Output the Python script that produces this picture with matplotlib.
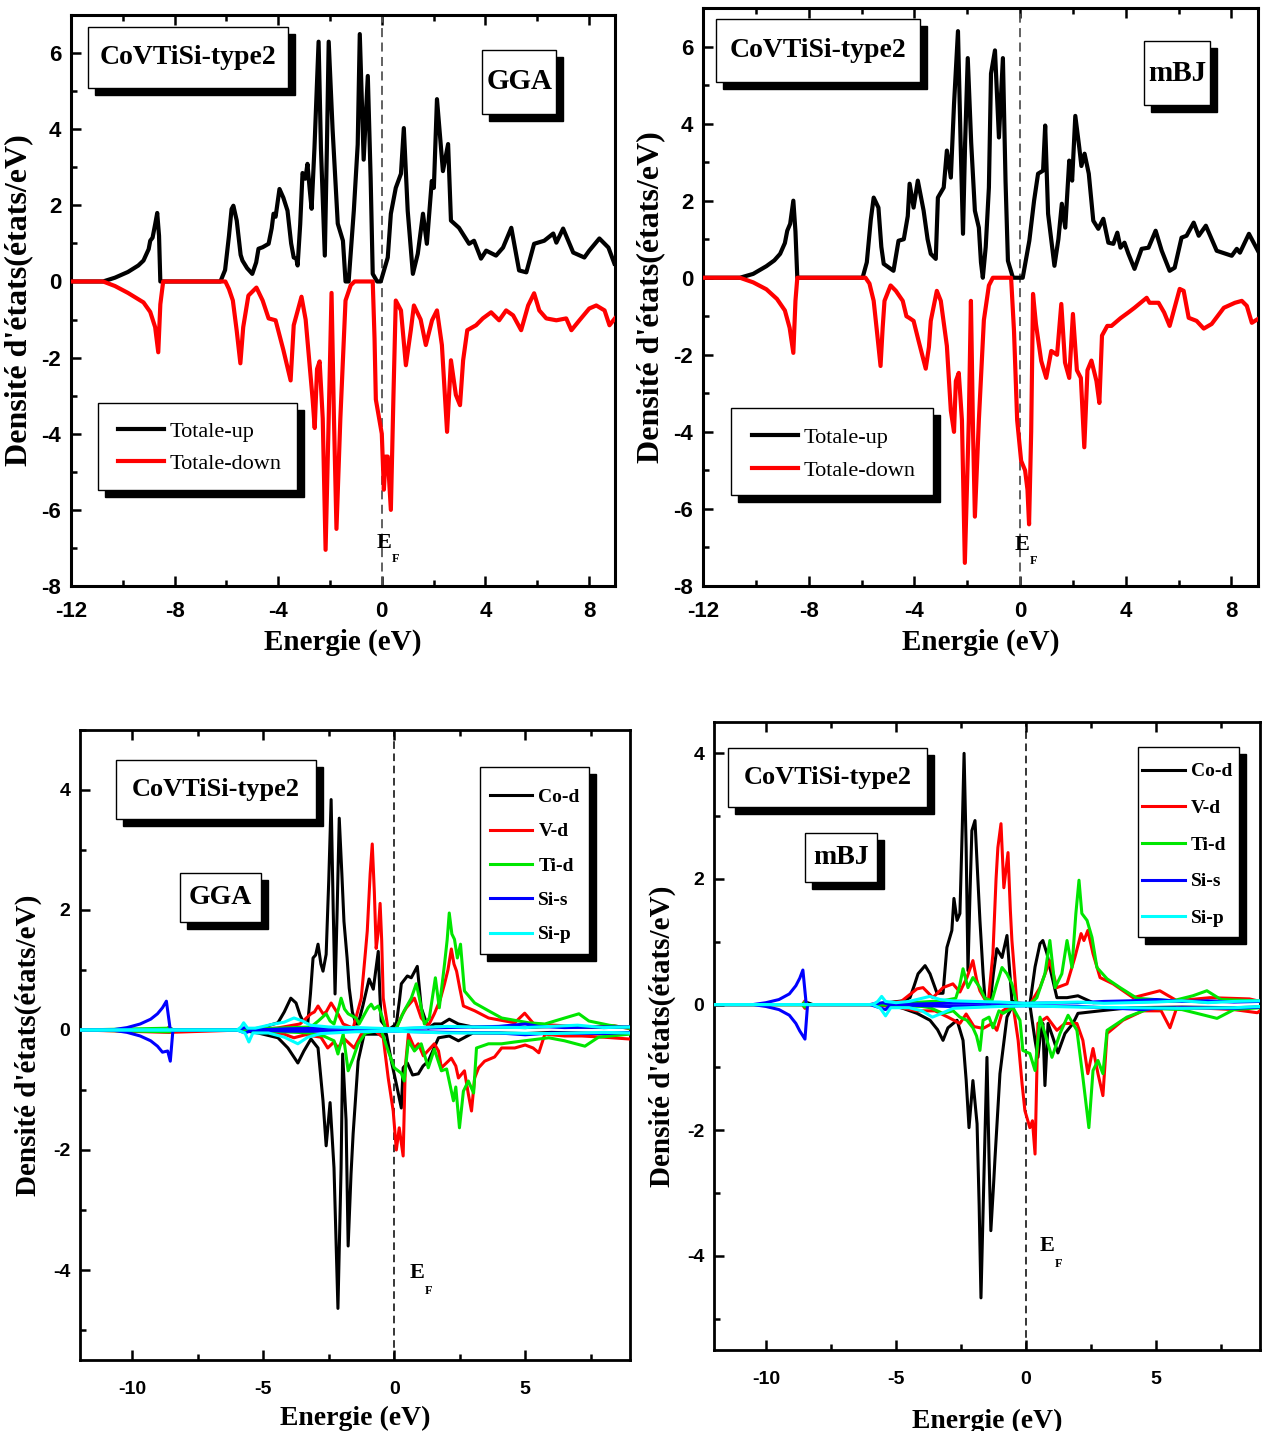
import matplotlib
matplotlib.use("Agg")
import matplotlib.pyplot as plt
from matplotlib.patches import Rectangle
from matplotlib.ticker import MultipleLocator
from matplotlib.transforms import offset_copy

plt.rcParams['font.family'] = ['Liberation Sans', 'DejaVu Sans']
plt.rcParams['font.weight'] = 'bold'
plt.rcParams['axes.unicode_minus'] = False

SERIF = ['Liberation Serif', 'DejaVu Serif']

# ---------------- data: total DOS, GGA (energy eV, DOS states/eV) ----------------
gga_tot_up = [(-12, 0), (-10.76, 0), (-10.3, 0.1), (-9.8, 0.25), (-9.4, 0.42), (-9.2, 0.55), (-9.0, 0.85),
              (-8.94, 1.07), (-8.85, 1.15), (-8.75, 1.5), (-8.67, 1.8), (-8.6, 1.2), (-8.55, 0), (-6.23, 0),
              (-6.05, 0.3), (-5.9, 1.2), (-5.8, 1.9), (-5.73, 1.99), (-5.6, 1.6), (-5.45, 0.7), (-5.38, 0.55),
              (-5.2, 0.35), (-5.0, 0.2), (-4.85, 0.5), (-4.76, 0.86), (-4.6, 0.9), (-4.37, 0.99), (-4.25, 1.4),
              (-4.18, 1.78), (-4.1, 1.7), (-3.95, 2.43), (-3.8, 2.2), (-3.64, 1.86), (-3.5, 1.0), (-3.4, 0.63),
              (-3.3, 0.6), (-3.25, 0.42), (-3.15, 1.5), (-3.06, 2.85), (-2.95, 2.7), (-2.87, 3.09), (-2.78, 2.4),
              (-2.71, 1.91), (-2.6, 3.5), (-2.44, 6.3), (-2.35, 3.5), (-2.2, 0.68), (-2.12, 3.5), (-2.05, 6.3),
              (-1.9, 4.0), (-1.7, 1.52), (-1.5, 1.07), (-1.4, 0), (-1.28, 0), (-1.08, 1.86), (-0.93, 3.6),
              (-0.85, 6.5), (-0.7, 3.2), (-0.54, 5.4), (-0.43, 2.7), (-0.35, 0.2), (-0.18, 0), (-0.04, 0),
              (0.23, 0.63), (0.35, 1.78), (0.54, 2.46), (0.74, 2.83), (0.85, 4.03), (1.0, 1.86), (1.2, 0.2),
              (1.39, 0.73), (1.59, 1.78), (1.74, 0.99), (1.93, 2.64), (2.01, 2.46), (2.13, 4.79), (2.36, 2.9),
              (2.56, 3.61), (2.67, 1.6), (2.98, 1.41), (3.37, 0.99), (3.56, 1.07), (3.83, 0.6), (4.03, 0.81),
              (4.41, 0.68), (4.68, 0.89), (5.0, 1.41), (5.3, 0.29), (5.58, 0.24), (5.88, 0.99), (6.27, 1.07),
              (6.62, 1.26), (6.74, 1.02), (7.0, 1.39), (7.39, 0.76), (7.82, 0.63), (8.01, 0.81), (8.4, 1.13),
              (8.75, 0.89), (8.98, 0.47)]
gga_tot_dn = [(-12, 0), (-10.76, 0), (-10.3, -0.12), (-9.8, -0.3), (-9.2, -0.55), (-8.94, -0.8), (-8.75, -1.2),
              (-8.63, -1.86), (-8.55, -0.6), (-8.44, 0), (-6.04, 0), (-5.9, -0.2), (-5.75, -0.5), (-5.6, -1.3),
              (-5.46, -2.15), (-5.35, -1.2), (-5.15, -0.37), (-4.84, -0.16), (-4.6, -0.5), (-4.37, -0.97),
              (-4.1, -1.02), (-3.8, -1.8), (-3.52, -2.6), (-3.4, -1.15), (-3.1, -0.4), (-2.94, -1.0),
              (-2.67, -3.1), (-2.59, -3.85), (-2.5, -2.3), (-2.4, -2.1), (-2.28, -3.6), (-2.17, -7.05),
              (-2.05, -3.6), (-1.94, -0.3), (-1.85, -3.5), (-1.75, -6.5), (-1.6, -3.6), (-1.4, -0.5),
              (-1.2, -0.1), (-1.05, 0), (-0.35, 0), (-0.28, -1.5), (-0.23, -3.1), (0.0, -4.0), (0.08, -5.47),
              (0.15, -4.6), (0.23, -4.6), (0.35, -6.0), (0.45, -3.0), (0.54, -0.5), (0.74, -0.76), (0.93, -2.2),
              (1.12, -1.28), (1.24, -0.63), (1.5, -1.0), (1.7, -1.67), (1.94, -1.02), (2.13, -0.76), (2.32, -1.67),
              (2.52, -3.95), (2.67, -2.07), (2.86, -2.98), (3.02, -3.25), (3.14, -2.07), (3.3, -1.28),
              (3.64, -1.15), (3.9, -0.97), (4.22, -0.81), (4.53, -1.02), (4.8, -0.76), (5.07, -0.89),
              (5.38, -1.28), (5.65, -0.63), (5.88, -0.31), (6.08, -0.76), (6.35, -0.97), (6.74, -1.02),
              (7.12, -0.97), (7.32, -1.28), (7.63, -1.02), (8.01, -0.71), (8.28, -0.63), (8.6, -0.76),
              (8.79, -1.15), (9.0, -0.97)]

# ---------------- data: total DOS, mBJ ----------------
mbj_tot_up = [(-12, 0), (-10.6, 0), (-10.1, 0.1), (-9.6, 0.3), (-9.3, 0.45), (-9.08, 0.62), (-8.9, 0.9),
              (-8.81, 1.22), (-8.7, 1.4), (-8.58, 2.0), (-8.5, 1.2), (-8.43, 0), (-5.96, 0), (-5.8, 0.4),
              (-5.65, 1.5), (-5.54, 2.08), (-5.36, 1.82), (-5.25, 0.8), (-5.16, 0.36), (-4.79, 0.18), (-4.6, 0.96),
              (-4.4, 1.0), (-4.25, 1.6), (-4.18, 2.44), (-4.03, 1.82), (-3.87, 2.52), (-3.65, 1.74), (-3.5, 1.0),
              (-3.38, 0.62), (-3.19, 0.49), (-3.11, 2.08), (-2.89, 2.34), (-2.77, 3.3), (-2.62, 2.6), (-2.5, 4.5),
              (-2.35, 6.4), (-2.25, 3.5), (-2.16, 1.14), (-2.08, 3.5), (-1.98, 5.7), (-1.85, 3.5), (-1.71, 1.74),
              (-1.56, 1.3), (-1.48, 0.4), (-1.41, 0), (-1.3, 0.8), (-1.18, 2.34), (-1.1, 5.3), (-0.95, 5.9),
              (-0.8, 3.64), (-0.65, 5.7), (-0.55, 2.5), (-0.46, 0.44), (-0.27, 0), (0.1, 0), (0.35, 0.96),
              (0.53, 2.0), (0.68, 2.7), (0.87, 2.78), (0.95, 3.95), (1.06, 1.66), (1.3, 0.31), (1.45, 1.0),
              (1.58, 1.92), (1.71, 1.3), (1.86, 3.04), (1.97, 2.52), (2.09, 4.2), (2.24, 3.38), (2.32, 2.9),
              (2.44, 3.22), (2.6, 2.7), (2.77, 1.48), (2.96, 1.27), (3.15, 1.53), (3.34, 0.91), (3.53, 0.88),
              (3.68, 1.17), (3.8, 0.78), (3.95, 0.91), (4.1, 0.62), (4.33, 0.23), (4.6, 0.75), (4.86, 0.78),
              (5.13, 1.22), (5.36, 0.7), (5.66, 0.18), (5.85, 0.26), (6.11, 1.04), (6.3, 1.09), (6.57, 1.43),
              (6.76, 1.09), (7.03, 1.35), (7.44, 0.7), (8.01, 0.57), (8.2, 0.75), (8.32, 0.65), (8.66, 1.14),
              (9.0, 0.7)]
mbj_tot_dn = [(-12, 0), (-10.6, 0), (-10.1, -0.12), (-9.6, -0.3), (-9.2, -0.55), (-8.9, -0.85), (-8.72, -1.3),
              (-8.58, -1.95), (-8.5, -0.6), (-8.43, 0), (-5.85, 0), (-5.7, -0.15), (-5.54, -0.6), (-5.4, -1.5),
              (-5.28, -2.29), (-5.2, -1.3), (-5.13, -0.6), (-4.9, -0.2), (-4.7, -0.34), (-4.44, -0.6),
              (-4.3, -1.0), (-4.2, -1.04), (-4.03, -1.12), (-3.84, -1.64), (-3.57, -2.36), (-3.45, -1.8),
              (-3.38, -1.12), (-3.15, -0.34), (-3.0, -0.6), (-2.77, -1.77), (-2.62, -3.45), (-2.5, -4.0),
              (-2.43, -2.68), (-2.32, -2.47), (-2.2, -3.7), (-2.09, -7.4), (-1.94, -3.7), (-1.86, -0.6),
              (-1.78, -4.0), (-1.71, -6.2), (-1.56, -3.7), (-1.37, -1.1), (-1.18, -0.2), (-1.03, 0), (-0.34, 0),
              (-0.23, -1.38), (-0.11, -3.7), (0.04, -4.75), (0.19, -5.0), (0.28, -5.5), (0.34, -6.4),
              (0.42, -4.0), (0.49, -0.42), (0.6, -1.2), (0.8, -2.16), (0.99, -2.6), (1.18, -1.9), (1.4, -2.0),
              (1.56, -0.68), (1.7, -2.2), (1.86, -2.6), (2.0, -0.94), (2.15, -2.4), (2.3, -2.6), (2.43, -4.4),
              (2.55, -2.4), (2.7, -2.15), (2.89, -2.68), (3.0, -3.25), (3.1, -1.5), (3.3, -1.25), (3.46, -1.25),
              (3.8, -1.05), (4.1, -0.9), (4.33, -0.78), (4.79, -0.52), (4.9, -0.65), (5.24, -0.65), (5.45, -0.9),
              (5.66, -1.25), (6.04, -0.29), (6.19, -0.34), (6.38, -1.04), (6.68, -1.12), (6.95, -1.32),
              (7.25, -1.2), (7.71, -0.78), (8.13, -0.65), (8.39, -0.6), (8.58, -0.73), (8.77, -1.17),
              (9.0, -1.07)]

# ---------------- data: partial DOS, GGA ----------------
gga_co_up = [(-12, 0), (-8.8, 0), (-8.6, 0.03), (-8.4, 0), (-6, 0), (-5.5, 0.02), (-5.1, 0.03), (-4.83, 0.07),
             (-4.44, 0.12), (-4.2, 0.3), (-3.95, 0.53), (-3.75, 0.45), (-3.6, 0.25), (-3.49, 0.15), (-3.3, 0.12),
             (-3.2, 0.6), (-3.1, 1.2), (-3.0, 1.25), (-2.91, 1.43), (-2.8, 1.1), (-2.72, 0.98), (-2.6, 1.26),
             (-2.5, 2.5), (-2.41, 3.84), (-2.33, 2.0), (-2.26, 0.6), (-2.18, 2.0), (-2.1, 3.53), (-2.0, 2.6),
             (-1.92, 1.81), (-1.8, 1.2), (-1.72, 0.7), (-1.6, 0.3), (-1.46, 0.1), (-1.38, 0.1), (-1.2, 0.4),
             (-0.96, 0.85), (-0.8, 0.68), (-0.61, 1.31), (-0.55, 0.6), (-0.5, 0.15), (-0.23, 0), (0.08, 0.1),
             (0.2, 0.5), (0.27, 0.77), (0.5, 0.9), (0.65, 0.87), (0.88, 1.06), (1.03, 0.37), (1.3, 0.03),
             (1.53, 0.1), (1.8, 0.1), (2.1, 0.18), (2.45, 0.1), (3, 0.05), (4, 0.05), (5, 0.04), (6, 0.06),
             (7, 0.05), (8, 0.04), (9, 0.05)]
gga_co_dn = [(-12, 0), (-5.86, 0), (-5.2, -0.05), (-4.44, -0.13), (-4.06, -0.3), (-3.68, -0.55), (-3.45, -0.35),
             (-3.18, -0.15), (-2.91, -0.3), (-2.72, -1.18), (-2.6, -1.93), (-2.45, -1.21), (-2.3, -2.3),
             (-2.15, -4.64), (-2.03, -2.3), (-1.97, -0.4), (-1.84, -1.5), (-1.76, -3.6), (-1.65, -2.4),
             (-1.57, -1.73), (-1.38, -0.52), (-1.15, -0.07), (-0.3, -0.07), (-0.11, -0.52), (0.08, -0.9),
             (0.27, -1.3), (0.34, -0.63), (0.5, -0.55), (0.7, -0.75), (0.92, -0.73), (1.1, -0.6), (1.3, -0.52),
             (1.69, -0.13), (2.1, -0.1), (2.45, -0.18), (3, -0.05), (4, -0.05), (5, -0.06), (6, -0.04),
             (7, -0.05), (8, -0.06), (9, -0.05)]
gga_v_up = [(-12, 0), (-8.7, 0), (-8.6, 0.05), (-8.5, 0), (-5.8, 0), (-4.5, 0.03), (-3.6, 0.1), (-3.18, 0.27),
            (-3.05, 0.3), (-2.91, 0.4), (-2.72, 0.27), (-2.6, 0.3), (-2.41, 0.45), (-2.15, 0.27), (-1.95, 0.1),
            (-1.57, 0.03), (-1.26, 0.53), (-1.1, 1.3), (-1.03, 1.65), (-0.92, 2.6), (-0.84, 3.1), (-0.76, 2.3),
            (-0.69, 1.36), (-0.62, 1.6), (-0.54, 2.11), (-0.48, 1.5), (-0.42, 0.53), (-0.23, 0), (0.08, 0.03),
            (0.3, 0.25), (0.46, 0.37), (0.77, 0.53), (1.03, 0.2), (1.3, 0.07), (1.53, 0.27), (1.75, 0.5),
            (1.92, 0.77), (2.05, 1.0), (2.18, 1.35), (2.28, 1.1), (2.38, 0.98), (2.5, 0.7), (2.64, 0.4),
            (3.07, 0.32), (3.6, 0.2), (4.6, 0.12), (4.98, 0.28), (5.33, 0.1), (6.5, 0.07), (7.5, 0.05),
            (8.4, 0.07), (9, 0.02)]
gga_v_dn = [(-12, 0), (-8.6, -0.04), (-5.8, 0), (-4.5, -0.05), (-4.2, -0.07), (-3.83, -0.13), (-3.4, -0.08),
            (-2.8, -0.12), (-2.54, -0.3), (-2.3, -0.2), (-2.15, -0.3), (-1.9, -0.15), (-1.53, -0.3),
            (-1.26, -0.07), (-0.77, 0), (-0.42, -0.13), (-0.23, -0.8), (-0.04, -1.35), (0.08, -2.0),
            (0.19, -1.63), (0.34, -2.1), (0.42, -0.63), (0.54, -0.07), (0.77, -0.3), (0.92, -0.23),
            (1.11, -0.43), (1.53, -0.23), (1.69, -0.35), (1.8, -0.63), (2.18, -0.47), (2.35, -0.6),
            (2.45, -0.8), (2.68, -0.68), (2.83, -1.07), (2.95, -1.35), (3.07, -0.8), (3.22, -0.63),
            (3.45, -0.52), (3.83, -0.45), (4.1, -0.3), (4.6, -0.3), (5.0, -0.25), (5.3, -0.3), (5.52, -0.38),
            (5.75, -0.07), (6.5, -0.1), (7.16, -0.1), (8.0, -0.12), (8.97, -0.15)]
gga_ti_up = [(-12, 0), (-8.6, 0.03), (-8.4, 0), (-5.8, 0), (-4.5, 0.03), (-3.18, 0.05), (-2.9, 0.15),
             (-2.6, 0.27), (-2.45, 0.15), (-2.3, 0.1), (-2.1, 0.4), (-2.03, 0.53), (-1.9, 0.35), (-1.76, 0.27),
             (-1.46, 0.2), (-1.34, 0.1), (-1.0, 0.37), (-0.88, 0.43), (-0.77, 0.35), (-0.61, 0.4), (-0.5, 0.27),
             (-0.31, 0), (0.08, 0.03), (0.38, 0.32), (0.65, 0.53), (0.84, 0.77), (0.96, 0.53), (1.15, 0.1),
             (1.34, 0.2), (1.57, 0.87), (1.72, 0.37), (1.92, 1.1), (2.02, 1.5), (2.1, 1.95), (2.2, 1.6),
             (2.3, 1.51), (2.41, 1.2), (2.53, 1.43), (2.68, 0.65), (3.07, 0.45), (3.6, 0.32), (4.1, 0.2),
             (5.13, 0.12), (5.75, 0.1), (6.51, 0.2), (7.05, 0.27), (7.43, 0.15), (8.2, 0.08), (8.97, 0.03)]
gga_ti_dn = [(-12, 0), (-8.6, -0.03), (-8.4, 0), (-5.8, 0), (-3.2, -0.05), (-2.7, -0.1), (-2.3, -0.18),
             (-2.15, -0.4), (-1.95, -0.07), (-1.76, -0.68), (-1.57, -0.47), (-1.38, -0.23), (-1.1, -0.05),
             (-0.5, 0), (-0.23, -0.35), (0, -0.63), (0.27, -0.72), (0.38, -0.85), (0.54, -0.18), (0.77, -0.35),
             (1.03, -0.23), (1.3, -0.63), (1.53, -0.32), (1.8, -0.68), (2.0, -0.65), (2.26, -1.18),
             (2.35, -0.95), (2.49, -1.63), (2.64, -1.02), (2.83, -0.85), (3.03, -1.05), (3.14, -0.3),
             (3.6, -0.23), (4.1, -0.23), (4.6, -0.2), (5.9, -0.13), (6.5, -0.18), (7.28, -0.27), (7.8, -0.12),
             (8.97, -0.07)]
gga_sis_up = [(-12, 0), (-10.8, 0), (-10.2, 0.04), (-9.7, 0.1), (-9.3, 0.18), (-9.04, 0.27), (-8.85, 0.37),
              (-8.7, 0.48), (-8.55, 0), (-6, 0), (-5.7, 0.04), (-5.4, 0), (-4, 0.02), (-2, 0.03), (0, 0.02),
              (2, 0.04), (4, 0.06), (5, 0.1), (5.5, 0.06), (6.5, 0.04), (8, 0.05), (9, 0.05)]
gga_sis_dn = [(-12, 0), (-10.8, 0), (-10.2, -0.04), (-9.7, -0.1), (-9.3, -0.18), (-9.04, -0.27), (-8.85, -0.37),
              (-8.65, -0.35), (-8.55, -0.52), (-8.45, 0), (-6, 0), (-5.7, -0.05), (-5.4, 0), (-4, -0.02),
              (0, -0.02), (2, -0.04), (4, -0.05), (5, -0.08), (6, -0.05), (8, -0.06), (9, -0.04)]
gga_sip_up = [(-12, 0), (-6.0, 0), (-5.85, 0.05), (-5.75, 0.12), (-5.6, 0.03), (-5.3, 0.03), (-5.0, 0.06),
              (-4.6, 0.1), (-4.2, 0.13), (-3.83, 0.2), (-3.5, 0.15), (-3.2, 0.08), (-2.5, 0.05), (-1.5, 0.04),
              (0, 0.02), (1, 0.04), (2, 0.06), (3, 0.05), (5, 0.04), (6, 0.06), (7, 0.08), (8, 0.04), (9, 0.05)]
gga_sip_dn = [(-12, 0), (-6.0, 0), (-5.7, -0.05), (-5.55, -0.2), (-5.4, -0.05), (-4.8, -0.05), (-4.2, -0.12),
              (-3.68, -0.23), (-3.3, -0.12), (-2.8, -0.06), (-1.5, -0.03), (0, -0.02), (2, -0.05), (4, -0.05),
              (6, -0.06), (8, -0.04), (9, -0.05)]

# ---------------- data: partial DOS, mBJ ----------------
mbj_co_up = [(-12, 0), (-8.6, 0), (-8.4, 0.03), (-8.2, 0), (-6, 0), (-5.5, 0.02), (-4.73, 0.06), (-4.46, 0.11),
             (-4.3, 0.3), (-4.15, 0.49), (-3.88, 0.62), (-3.69, 0.49), (-3.42, 0.18), (-3.19, 0.18),
             (-3.04, 0.91), (-2.85, 1.18), (-2.77, 1.69), (-2.65, 1.34), (-2.54, 1.45), (-2.45, 2.8),
             (-2.38, 4.0), (-2.3, 2.5), (-2.23, 0.54), (-2.15, 1.8), (-2.08, 2.77), (-1.96, 2.93), (-1.85, 2.0),
             (-1.77, 1.34), (-1.65, 0.5), (-1.58, 0.11), (-1.38, 0.02), (-1.25, 0.5), (-1.12, 0.89),
             (-0.92, 0.75), (-0.73, 1.1), (-0.62, 0.5), (-0.54, 0.06), (-0.23, 0), (0.15, 0), (0.35, 0.6),
             (0.54, 0.97), (0.65, 1.02), (0.81, 0.81), (0.92, 0.59), (1.19, 0.11), (1.58, 0.11), (2.0, 0.14),
             (2.58, 0.03), (3.5, 0.04), (5, 0.05), (6, 0.06), (7, 0.04), (8, 0.06), (9, 0.05)]
mbj_co_dn = [(-12, 0), (-5.5, 0), (-4.8, -0.05), (-4.19, -0.14), (-3.69, -0.25), (-3.4, -0.4), (-3.19, -0.57),
             (-3.0, -0.37), (-2.65, -0.25), (-2.42, -0.57), (-2.3, -1.2), (-2.19, -1.96), (-2.04, -1.21),
             (-1.88, -1.9), (-1.8, -3.2), (-1.73, -4.67), (-1.62, -2.8), (-1.5, -0.84), (-1.42, -2.44),
             (-1.35, -3.6), (-1.25, -2.9), (-1.19, -2.44), (-1.0, -1.1), (-0.73, -0.2), (-0.5, 0), (0.15, 0),
             (0.35, -0.57), (0.46, -0.84), (0.55, -0.5), (0.65, -0.3), (0.73, -1.29), (0.85, -0.3),
             (1.04, -0.53), (1.23, -0.77), (1.5, -0.46), (1.81, -0.3), (2.0, -0.14), (2.85, -0.1), (4, -0.05),
             (6, -0.04), (8, -0.05), (9, -0.04)]
mbj_v_up = [(-12, 0), (-8.6, 0), (-8.5, 0.06), (-8.4, 0), (-5.8, 0), (-4.8, 0.05), (-4.19, 0.25), (-3.96, 0.27),
            (-3.58, 0.11), (-3.19, 0.27), (-2.81, 0.33), (-2.54, 0.2), (-2.27, 0.43), (-2.04, 0.7), (-1.9, 0.4),
            (-1.77, 0.22), (-1.46, 0), (-1.27, 0.81), (-1.15, 2.0), (-1.08, 2.5), (-0.96, 2.88), (-0.85, 1.86),
            (-0.69, 2.42), (-0.6, 1.5), (-0.54, 1.02), (-0.35, 0.03), (0.15, 0), (0.54, 0.27), (0.92, 0.7),
            (1.19, 0.27), (1.58, 0.33), (1.88, 0.75), (2.12, 1.13), (2.23, 1.02), (2.38, 1.18), (2.58, 0.81),
            (2.85, 0.43), (3.35, 0.33), (4.12, 0.11), (5.15, 0.22), (5.81, 0.06), (7.08, 0.11), (8.6, 0.09),
            (9, 0.05)]
mbj_v_dn = [(-12, 0), (-8.6, 0), (-8.5, -0.06), (-8.4, 0), (-5.8, 0), (-4.8, -0.05), (-4.2, -0.1), (-3.5, -0.1),
            (-3.0, -0.2), (-2.54, -0.3), (-2.3, -0.15), (-2.0, -0.35), (-1.65, -0.38), (-1.3, -0.3),
            (-1.12, -0.41), (-0.9, -0.1), (-0.5, 0), (-0.3, -0.57), (-0.15, -1.26), (-0.04, -1.69),
            (0.15, -1.96), (0.25, -1.85), (0.35, -2.38), (0.46, -0.3), (0.81, -0.2), (1.19, -0.41),
            (1.5, -0.3), (1.96, -0.3), (2.19, -0.57), (2.38, -1.1), (2.58, -0.7), (2.77, -1.1), (2.96, -1.45),
            (3.12, -0.46), (3.73, -0.25), (4.5, -0.1), (5.2, -0.1), (5.54, -0.37), (5.8, -0.05), (7, -0.06),
            (8, -0.08), (8.9, -0.13), (9, -0.1)]
mbj_ti_up = [(-12, 0), (-8.6, 0), (-8.5, 0.04), (-8.4, 0), (-5.8, 0), (-4, 0.04), (-3.2, 0.06), (-2.7, 0.1),
             (-2.55, 0.3), (-2.42, 0.57), (-2.23, 0.27), (-2.04, 0.43), (-1.77, 0.27), (-1.58, 0.1),
             (-1.31, 0.06), (-1.12, 0.33), (-0.92, 0.59), (-0.73, 0.49), (-0.54, 0.33), (-0.35, 0), (0.15, 0),
             (0.42, 0.11), (0.73, 0.49), (0.92, 1.02), (1.12, 0.27), (1.38, 0.49), (1.58, 1.02), (1.77, 0.59),
             (1.92, 1.45), (2.04, 1.98), (2.15, 1.45), (2.35, 1.34), (2.54, 1.07), (2.73, 0.59), (3.12, 0.41),
             (3.62, 0.27), (4.27, 0.1), (5.65, 0.06), (6.42, 0.14), (6.96, 0.22), (7.5, 0.08), (8.9, 0.06),
             (9, 0.05)]
mbj_ti_dn = [(-12, 0), (-8.6, 0), (-8.5, -0.04), (-8.4, 0), (-5.8, 0), (-4, -0.03), (-3.69, -0.05),
             (-3.19, -0.14), (-2.8, -0.1), (-2.54, -0.2), (-2.27, -0.25), (-2.04, -0.37), (-1.9, -0.5),
             (-1.77, -0.73), (-1.65, -0.25), (-1.42, -0.2), (-1.27, -0.37), (-1.04, -0.1), (-0.88, -0.14),
             (-0.5, -0.05), (-0.23, -0.25), (-0.12, -0.73), (0.15, -0.78), (0.35, -1.05), (0.54, -0.2),
             (0.81, -0.57), (1.0, -0.84), (1.31, -0.46), (1.62, -0.17), (1.96, -0.41), (2.19, -1.16),
             (2.42, -1.96), (2.58, -1.05), (2.77, -0.89), (2.96, -1.1), (3.12, -0.41), (3.88, -0.2),
             (4.77, -0.06), (6, -0.08), (7.35, -0.22), (8, -0.08), (9, -0.05)]
mbj_sis_up = [(-12, 0), (-10.5, 0), (-10.0, 0.03), (-9.5, 0.08), (-9.1, 0.17), (-8.85, 0.3), (-8.7, 0.42),
              (-8.58, 0.55), (-8.45, 0), (-6, 0), (-5.5, 0.03), (-5.2, 0), (-3, 0.02), (0, 0.02), (2, 0.03),
              (3, 0.05), (4, 0.06), (5, 0.08), (6, 0.05), (7, 0.06), (8, 0.04), (9, 0.05)]
mbj_sis_dn = [(-12, 0), (-10.5, 0), (-10.0, -0.03), (-9.5, -0.08), (-9.1, -0.17), (-8.85, -0.3), (-8.7, -0.42),
              (-8.5, -0.55), (-8.4, 0), (-6, 0), (-5.4, -0.08), (-5.2, 0), (-3, -0.03), (0, -0.02), (2, -0.03),
              (3, -0.05), (4.5, -0.08), (5, -0.06), (6, -0.05), (8, -0.06), (9, -0.04)]
mbj_sip_up = [(-12, 0), (-5.9, 0), (-5.7, 0.05), (-5.55, 0.13), (-5.4, 0.05), (-5.0, 0.03), (-4.5, 0.05),
              (-4.0, 0.1), (-3.7, 0.13), (-3.3, 0.08), (-2.8, 0.06), (-2, 0.05), (-1, 0.04), (0, 0.02), (1, 0.03),
              (2, 0.04), (3, 0.02), (5, 0.04), (6, 0.06), (7, 0.03), (8, 0.05), (9, 0.06)]
mbj_sip_dn = [(-12, 0), (-5.9, 0), (-5.6, -0.06), (-5.4, -0.18), (-5.2, -0.05), (-4.5, -0.05), (-4.0, -0.1),
              (-3.6, -0.2), (-3.3, -0.15), (-2.8, -0.06), (-1, -0.03), (0, -0.02), (2, -0.04), (4, -0.05),
              (6, -0.06), (8, -0.05), (9, -0.03)]

pdos_names = ['Co-d', 'V-d', 'Ti-d', 'Si-s', 'Si-p']
pdos_colors = ['black', '#ff0000', '#00e600', '#0000ff', '#00ffff']


def xy(points):
    return [p[0] for p in points], [p[1] for p in points]


fig = plt.figure(figsize=(12.65, 14.31), dpi=100)
ax_tl = fig.add_axes([0.0561, 0.5905, 0.430, 0.399])
ax_tr = fig.add_axes([0.5557, 0.5905, 0.4387, 0.4039])
ax_bl = fig.add_axes([0.0632, 0.0496, 0.4348, 0.4403])
ax_br = fig.add_axes([0.5644, 0.0566, 0.4316, 0.4389])


def style_axes(ax, xmaj, xmin, ymaj, ymin, size, spine_w, xpad):
    for s in ax.spines.values():
        s.set_linewidth(spine_w)
    ax.xaxis.set_major_locator(MultipleLocator(xmaj))
    ax.xaxis.set_minor_locator(MultipleLocator(xmin))
    ax.yaxis.set_major_locator(MultipleLocator(ymaj))
    ax.yaxis.set_minor_locator(MultipleLocator(ymin))
    ax.tick_params(which='both', direction='in', top=True, right=False, width=1.8,
                   labelsize=size, pad=7)
    ax.tick_params(axis='x', which='both', pad=xpad)
    ax.tick_params(which='major', length=7)
    ax.tick_params(which='minor', length=4)


def shadow_box(ax, x0, y0, x1, y1, text=None, size=20, shift=7):
    sh = offset_copy(ax.transAxes, fig=fig, x=shift, y=-shift, units='dots')
    ax.add_artist(Rectangle((x0, y0), x1 - x0, y1 - y0, transform=sh, facecolor='black',
                            edgecolor='black', zorder=8, clip_on=False))
    ax.add_artist(Rectangle((x0, y0), x1 - x0, y1 - y0, transform=ax.transAxes, facecolor='white',
                            edgecolor='black', lw=1, zorder=9, clip_on=False))
    if text:
        ax.text((x0 + x1) / 2, (y0 + y1) / 2, text, transform=ax.transAxes, ha='center', va='center',
                fontsize=size, fontweight='bold', family=SERIF, zorder=10)


def fermi_label(ax, x, y, size, color):
    ax.text(x, y, 'E', transform=ax.transAxes, fontsize=size, fontweight='bold', family=SERIF,
            ha='left', va='bottom', color=color)
    ax.text(x + size * 0.0017, y - 0.022, 'F', transform=ax.transAxes, fontsize=size * 0.55,
            fontweight='bold', family=SERIF, ha='left', va='bottom', color=color)


# ---------------- top panels: total DOS ----------------
for ax, up, dn, method, mbox, cbox, lbox, anchor, spacing, ef in [
        (ax_tl, gga_tot_up, gga_tot_dn, 'GGA', (0.756, 0.827, 0.892, 0.939),
         (0.031, 0.872, 0.399, 0.979), (0.050, 0.168, 0.415, 0.320), (0.086, 0.289), 0.53, (0.562, 0.058)),
        (ax_tr, mbj_tot_up, mbj_tot_dn, 'mBJ', (0.795, 0.832, 0.914, 0.943),
         (0.023, 0.872, 0.391, 0.981), (0.050, 0.157, 0.414, 0.308), (0.088, 0.274), 0.56, (0.562, 0.054))]:
    l_up, = ax.plot(*xy(up), color='black', lw=3, solid_joinstyle='round', zorder=3)
    l_dn, = ax.plot(*xy(dn), color='#ff0000', lw=3, solid_joinstyle='round', zorder=4)
    ax.axvline(0, color='#555555', lw=1.3, ls=(0, (5, 3)), zorder=2)
    ax.set_xlim(-12, 9)
    ax.set_ylim(-8, 7)
    style_axes(ax, 4, 2, 2, 1, 16, 2.2, 10.5)
    ax.set_xlabel('Energie (eV)', family=SERIF, fontsize=21, fontweight='bold', labelpad=5)
    ax.set_ylabel("Densité d'états(états/eV)", family=SERIF, fontsize=23, fontweight='bold', labelpad=6)
    shadow_box(ax, cbox[0], cbox[1], cbox[2], cbox[3], 'CoVTiSi-type2', 20)
    shadow_box(ax, mbox[0], mbox[1], mbox[2], mbox[3], method, 21)
    shadow_box(ax, lbox[0], lbox[1], lbox[2], lbox[3])
    leg = ax.legend([l_up, l_dn], ['Totale-up', 'Totale-down'], loc='upper left', bbox_to_anchor=anchor,
                    frameon=False, prop={'family': SERIF, 'size': 16, 'weight': 'normal'},
                    handlelength=2.1, handletextpad=0.25, labelspacing=spacing, borderpad=0, borderaxespad=0)
    leg.set_zorder(11)
    fermi_label(ax, ef[0], ef[1], 16, 'black')

# ---------------- bottom panels: partial DOS ----------------
for ax, series, method, mbox, cbox, lbox, anchor, spacing, ef, lpad in [
        (ax_bl, [(gga_co_up, gga_co_dn), (gga_v_up, gga_v_dn), (gga_ti_up, gga_ti_dn),
                 (gga_sis_up, gga_sis_dn), (gga_sip_up, gga_sip_dn)], 'GGA',
         (0.182, 0.695, 0.329, 0.773), (0.065, 0.859, 0.429, 0.952), (0.727, 0.644, 0.925, 0.941),
         (0.745, 0.907), 0.86, (0.600, 0.122), 6),
        (ax_br, [(mbj_co_up, mbj_co_dn), (mbj_v_up, mbj_v_dn), (mbj_ti_up, mbj_ti_dn),
                 (mbj_sis_up, mbj_sis_dn), (mbj_sip_up, mbj_sip_dn)], 'mBJ',
         (0.167, 0.745, 0.299, 0.823), (0.026, 0.865, 0.390, 0.959), (0.777, 0.658, 0.962, 0.960),
         (0.784, 0.935), 0.98, (0.597, 0.150), 15)]:
    handles = []
    for (up, dn), color in zip(series, pdos_colors):
        h, = ax.plot(*xy(up), color=color, lw=2.2, zorder=3)
        ax.plot(*xy(dn), color=color, lw=2.2, zorder=3)
        handles.append(h)
    ax.axvline(0, color='black', lw=1.1, ls=(0, (5, 3)), zorder=2)
    ax.set_xlim(-12, 9)
    style_axes(ax, 5, 2.5, 2, 1, 14, 2.0, 15)
    ax.set_xlabel('Energie (eV)', family=SERIF, fontsize=20, fontweight='bold', labelpad=lpad)
    ax.set_ylabel("Densité d'états(états/eV)", family=SERIF, fontsize=21, fontweight='bold', labelpad=8)
    shadow_box(ax, cbox[0], cbox[1], cbox[2], cbox[3], 'CoVTiSi-type2', 19)
    shadow_box(ax, mbox[0], mbox[1], mbox[2], mbox[3], method, 20)
    shadow_box(ax, lbox[0], lbox[1], lbox[2], lbox[3])
    leg = ax.legend(handles, pdos_names, loc='upper left', bbox_to_anchor=anchor, frameon=False,
                    prop={'family': SERIF, 'size': 14, 'weight': 'bold'}, handlelength=2.2,
                    handletextpad=0.3, labelspacing=spacing, borderpad=0, borderaxespad=0)
    leg.set_zorder(11)
    fermi_label(ax, ef[0], ef[1], 16, 'black')

ax_bl.set_ylim(-5.5, 5)
ax_br.set_ylim(-5.5, 4.5)

fig.savefig('out.png', dpi=100)
